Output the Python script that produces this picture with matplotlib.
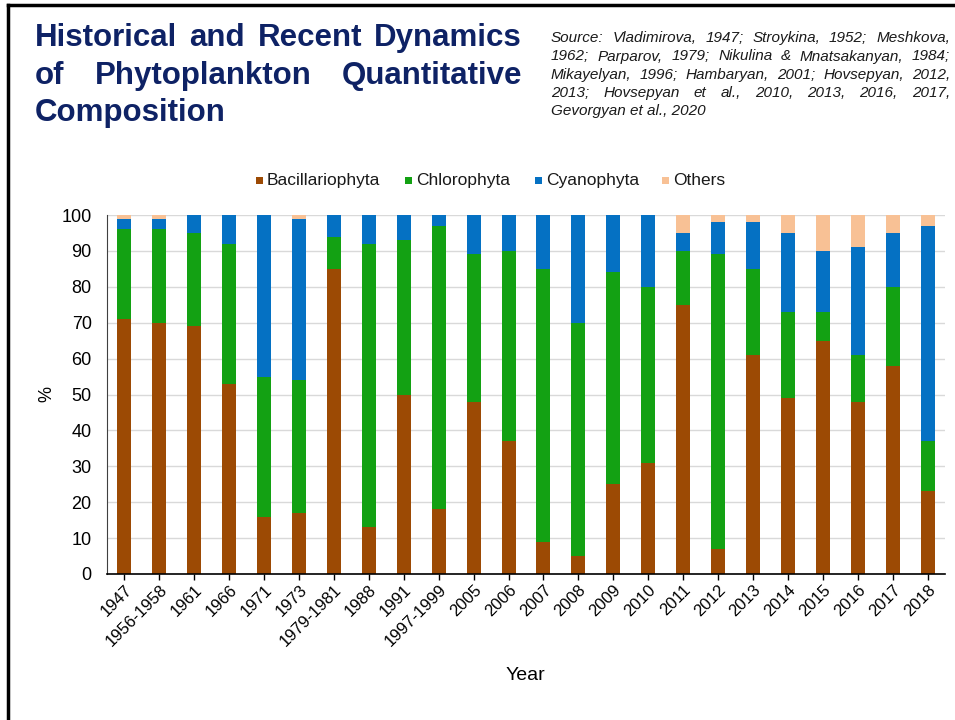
import numpy as np
import matplotlib
matplotlib.use('Agg')
import matplotlib.pyplot as plt
from matplotlib.lines import Line2D
from matplotlib.patches import Rectangle

plt.rcParams['font.family'] = ['Liberation Sans', 'DejaVu Sans']

# Anteile der Phytoplanktongruppen (%) je Untersuchungsjahr
years = ['1947', '1956-1958', '1961', '1966', '1971', '1973', '1979-1981', '1988',
         '1991', '1997-1999', '2005', '2006', '2007', '2008', '2009', '2010',
         '2011', '2012', '2013', '2014', '2015', '2016', '2017', '2018']
bacillariophyta = [71, 70, 69, 53, 16, 17, 85, 13, 50, 18, 48, 37, 9, 5, 25, 31,
                   75, 7, 61, 49, 65, 48, 58, 23]
chlorophyta = [25, 26, 26, 39, 39, 37, 9, 79, 43, 79, 41, 53, 76, 65, 59, 49,
               15, 82, 24, 24, 8, 13, 22, 14]
cyanophyta = [3, 3, 5, 8, 45, 45, 6, 8, 7, 3, 11, 10, 15, 30, 16, 20,
              5, 9, 13, 22, 17, 30, 15, 60]
others = [1, 1, 0, 0, 0, 1, 0, 0, 0, 0, 0, 0, 0, 0, 0, 0,
          5, 2, 2, 5, 10, 9, 5, 3]

groups = ['Bacillariophyta', 'Chlorophyta', 'Cyanophyta', 'Others']
colors = ['#9C4A04', '#13A113', '#0571C3', '#F8C195']

title_lines = ['Historical and Recent Dynamics',
               'of Phytoplankton Quantitative',
               'Composition']
source_lines = ['Source: Vladimirova, 1947; Stroykina, 1952; Meshkova,',
                '1962; Parparov, 1979; Nikulina & Mnatsakanyan, 1984;',
                'Mikayelyan, 1996; Hambaryan, 2001; Hovsepyan, 2012,',
                '2013; Hovsepyan et al., 2010, 2013, 2016, 2017,',
                'Gevorgyan et al., 2020']

W, H = 955, 720
fig = plt.figure(figsize=(W / 100, H / 100), dpi=100)

# Rahmen oben und links
fig.add_artist(Line2D([7.5 / W, 1], [1 - 5 / H, 1 - 5 / H], color='black', lw=2.5))
fig.add_artist(Line2D([8 / W, 8 / W], [0, 1 - 5 / H], color='black', lw=2.5))


def justified(lines, x0, x1, baselines, **kw):
    # Blocksatz: Woerter einer Zeile gleichmaessig zwischen x0 und x1 verteilen,
    # letzte Zeile linksbuendig
    renderer = fig.canvas.get_renderer()
    for i, (line, yb) in enumerate(zip(lines, baselines)):
        if i == len(lines) - 1:
            fig.text(x0 / W, 1 - yb / H, line, va='baseline', ha='left', **kw)
            continue
        words = line.split(' ')
        texts = [fig.text(0, 1 - yb / H, w, va='baseline', ha='left', **kw) for w in words]
        widths = [t.get_window_extent(renderer).width for t in texts]
        gap = (x1 - x0 - sum(widths)) / (len(words) - 1)
        x = x0
        for t, w in zip(texts, widths):
            t.set_x(x / W)
            x += w + gap


justified(title_lines, 35, 522, [46, 84, 121], fontsize=22.5,
          fontweight='bold', color='#0E2265')
justified(source_lines, 551, 950, [42, 60.5, 79, 97, 115.5], fontsize=11,
          style='italic', color='#1a1a1a')

ax = fig.add_axes([107 / W, 1 - 574 / H, (945 - 107) / W, (574 - 215) / H])
x = np.arange(len(years))
bottom = np.zeros(len(years))
for name, vals, col in zip(groups, [bacillariophyta, chlorophyta, cyanophyta, others], colors):
    ax.bar(x, vals, width=0.4, bottom=bottom, color=col, label=name, zorder=2)
    bottom += np.array(vals)

ax.set_xlim(-0.5, len(years) - 0.5)
ax.set_ylim(0, 100)
ax.set_yticks(np.arange(0, 101, 10))
ax.yaxis.grid(True, color='#d9d9d9', lw=1, zorder=0)
ax.set_axisbelow(True)
ax.tick_params(axis='y', length=0, labelsize=13, pad=11)
ax.tick_params(axis='x', length=4, width=1, direction='out', labelsize=12, pad=2)
ax.set_xticks(x)
ax.set_xticklabels(years, rotation=45, ha='right', rotation_mode='anchor')
for s in ['top', 'right']:
    ax.spines[s].set_visible(False)
ax.spines['left'].set_color('#404040')
ax.spines['bottom'].set_color('black')
ax.spines['bottom'].set_linewidth(1.2)

ax.set_ylabel('%', fontsize=13)
ax.yaxis.set_label_coords(-52 / (945 - 107), 0.5)
fig.text(525 / W, 1 - 676 / H, 'Year', fontsize=14, ha='center', va='center')

# Legende von Hand: kleine Quadrate + Text auf gemeinsamer Grundlinie
leg_x = [256, 405, 535, 662]
sq = 7
for lx, name, col in zip(leg_x, groups, colors):
    fig.add_artist(Rectangle((lx / W, 1 - 184 / H), sq / W, sq / H,
                             facecolor=col, edgecolor='none'))
    fig.text((lx + sq + 4) / W, 1 - 185 / H, name, fontsize=12.5,
             va='baseline', ha='left', color='#1a1a1a')

fig.savefig('out.png', dpi=100)
